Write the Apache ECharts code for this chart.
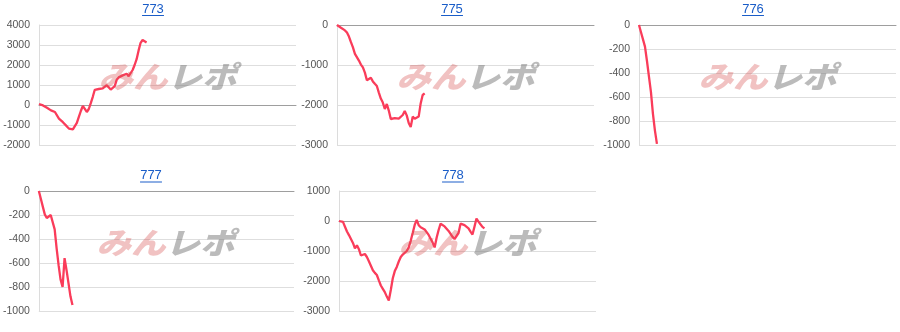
<!DOCTYPE html>
<html><head><meta charset="utf-8">
<script src="https://cdn.jsdelivr.net/npm/echarts@6/dist/echarts.min.js"></script>
<style>html,body{margin:0;padding:0;background:#fff}#c{width:900px;height:332px}</style>
</head><body><div id="c"></div>
<script>
// ---- data ----
const titles = ['773', '775', '776', '777', '778'];
const xCount = 130;
const s773 = [50,20,-20,-80,-140,-220,-270,-300,-350,-450,-680,-760,-860,-960,-1070,-1180,-1245,-1220,-1200,-890,
  -590,-300,-50,-190,-350,-200,90,410,760,820,800,825,830,850,990,890,770,780,940,1260,
  1380,1470,1480,1460,1560,1440,1510,1750,2000,2290,2730,3110,3250,3170,3130];
const s775 = [0,-20,-70,-115,-135,-190,-290,-430,-560,-720,-760,-890,-990,-1060,-1190,-1380,-1390,-1320,-1410,-1470,
  -1525,-1690,-1840,-1940,-2100,-1975,-2140,-2350,-2390,-2330,-2290,-2340,-2330,-2250,-2150,-2260,-2450,-2550,-2290,-2345,
  -2375,-2290,-1960,-1750,-1710];
const s776 = [0,-60,-120,-180,-300,-430,-560,-740,-880,-990];
const s777 = [0,-65,-130,-195,-225,-215,-200,-215,-320,-480,-620,-740,-800,-560,-660,-770,-880,-950];
const s778 = [0,0,-30,-190,-350,-470,-600,-730,-910,-810,-940,-1150,-1100,-1100,-1200,-1340,-1490,-1640,-1730,-1800,
  -1980,-2150,-2260,-2370,-2520,-2650,-2300,-1910,-1670,-1530,-1350,-1200,-1120,-1060,-1000,-880,-660,-400,-130,40,
  -140,-210,-250,-280,-370,-465,-590,-720,-880,-560,-300,-90,-100,-180,-255,-330,-430,-530,-600,-560,
  -400,-90,-50,-140,-205,-245,-355,-450,-190,80,-20,-110,-195,-245];
const seriesList = [s773, s775, s776, s777, s778];
const yMins = [-2000, -3000, -1000, -1000, -3000];
const yMaxs = [4000, 0, 0, 0, 1000];
const yIntervals = [1000, 1000, 200, 200, 1000];

// ---- layout ----
const gridLeft = [39, 337, 639, 37, 339];
const gridTop = [25, 25, 25, 191, 191];
const gridW = 257, gridH = 120;
const titleX = [153, 452, 753, 151, 453];
const titleY = [9, 9, 9, 175.5, 175.5];
const lineColor = '#fa3c5a';
const FONT = '"Liberation Sans", Arial, sans-serif';

const cats = Array.from({length: xCount}, (_, i) => String(i));
const grid = [], xAxis = [], yAxis = [], series = [], graphic = [];
for (let k = 0; k < 5; k++) {
  grid.push({left: gridLeft[k], top: gridTop[k], width: gridW, height: gridH, containLabel: false});
  xAxis.push({type: 'category', gridIndex: k, data: cats, boundaryGap: false,
    axisLine: {show: true, onZero: true, lineStyle: {color: '#9e9e9e', width: 1}},
    axisTick: {show: false}, axisLabel: {show: false}, splitLine: {show: false}});
  yAxis.push({type: 'value', gridIndex: k, min: yMins[k], max: yMaxs[k], interval: yIntervals[k],
    axisLine: {show: true, lineStyle: {color: '#dcdcdc'}}, axisTick: {show: false},
    axisLabel: {color: '#555', fontSize: 10.5, fontFamily: FONT, margin: 9, formatter: v => String(v)},
    splitLine: {show: true, lineStyle: {color: '#dedede', width: 1}}});
  series.push({type: 'line', xAxisIndex: k, yAxisIndex: k, data: seriesList[k], showSymbol: false,
    symbol: 'none', lineStyle: {color: lineColor, width: 2.3}, itemStyle: {color: lineColor}, z: 3, animation: false});
  // title (link style)
  graphic.push({type: 'text', x: titleX[k], y: titleY[k], z: 20,
    style: {text: titles[k], fill: '#1a5dc8', font: '13px ' + FONT, align: 'center', verticalAlign: 'middle'}});
  const tw = titles[k].length * 7.3;
  graphic.push({type: 'rect', x: titleX[k] - tw / 2, y: titleY[k] + 6, z: 20,
    shape: {width: tw, height: 1}, style: {fill: '#1a5dc8'}});
  // watermark
  graphic.push({type: 'text', x: gridLeft[k] + gridW / 2, y: gridTop[k] + gridH / 2 - 8, z: 10,
    scaleX: 1.15,
    style: {text: '{a|みん}{b|レポ}', align: 'center', verticalAlign: 'middle',
      rich: {
        a: {fill: 'rgba(215,80,80,0.35)', fontSize: 30, fontWeight: 900, fontStyle: 'italic', fontFamily: '"Noto Sans CJK JP"'},
        b: {fill: 'rgba(120,120,120,0.5)', fontSize: 30, fontWeight: 900, fontStyle: 'italic', fontFamily: '"Noto Sans CJK JP"'}
      }}});
}

const chart = echarts.init(document.getElementById('c'), null, {renderer: 'canvas'});
chart.setOption({animation: false, backgroundColor: '#fff', grid, xAxis, yAxis, series, graphic});
</script></body></html>
